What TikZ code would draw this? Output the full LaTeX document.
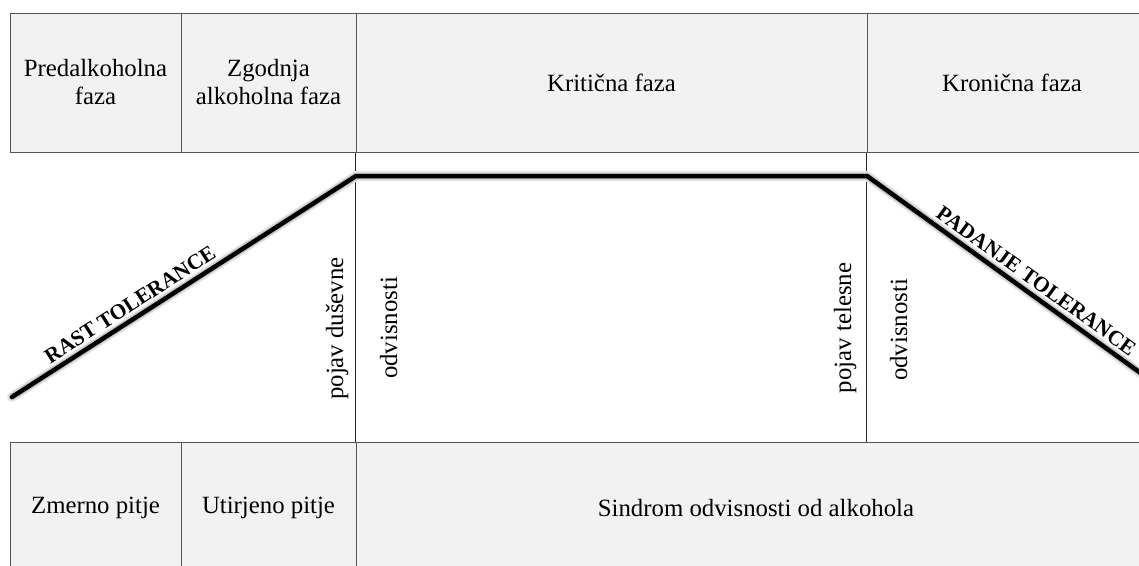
\documentclass[tikz,border=0pt]{standalone}
\usepackage{fontspec}
\setmainfont{Liberation Serif}
\definecolor{boxgray}{HTML}{F2F2F2}
\definecolor{edgegray}{HTML}{555555}
\begin{document}
\begin{tikzpicture}[x=1pt,y=-1pt,
  cell/.style={draw=edgegray, line width=1pt, fill=boxgray, inner sep=0pt,
    align=center, font=\fontsize{24.8}{28}\selectfont},
  topcell/.style={cell, minimum height=139pt},
  botcell/.style={cell, minimum height=132pt},
  vtext/.style={rotate=90, anchor=base, inner sep=0pt, font=\fontsize{24.8}{28}\selectfont},
  tol/.style={font=\bfseries\fontsize{21.5}{24}\selectfont, sloped, above, inner sep=4.5pt},
  divider/.style={draw=black!85, line width=1pt},
  curve/.style={line width=4.5pt, line cap=round, line join=miter},
  shade/.style={line cap=round, line join=miter, xshift=1pt, yshift=-2.5pt}
  ]
\useasboundingbox (0,0) rectangle (1139,565);
\fill[white] (0,0) rectangle (1139,565);

% top band
\node[topcell, minimum width=171pt] (pre) at (95.5,82.5) {Predalkoholna\\faza};
\node[topcell, minimum width=175pt] (zgo) at (268.5,82.5) {Zgodnja\\alkoholna faza};
\node[topcell, minimum width=511pt] (kri) at (611.5,82.5) {Kritična faza};
\node[topcell, minimum width=290pt] (kro) at (1012,82.5) {Kronična faza};

% bottom band
\node[botcell, minimum width=171pt] (zme) at (95.5,508) {Zmerno pitje};
\node[botcell, minimum width=175pt] (uti) at (268.5,508) {Utirjeno pitje};
\node[botcell, minimum width=800pt] (sin) at (756,508) {Sindrom odvisnosti od alkohola};

% dividers through the middle band
\draw[divider] (kri.south west) -- (sin.north west);
\draw[divider] (kro.south west) -- (kro.south west |- sin.north);

% tolerance curve
\coordinate (a) at (12,397);
\coordinate (b) at (356,176);
\coordinate (c) at (867,176);
\coordinate (d) at (1160,387);
\draw[shade, line width=10pt, black!10] (a) -- (b) -- (c) -- (d);
\draw[shade, line width=7pt, black!22] (a) -- (b) -- (c) -- (d);
\draw[curve] (a) -- (b) node[tol, pos=0.365] (rast) {RAST TOLERANCE}
  -- (c) -- (d) node[tol, pos=0.55] (pad) {PADANJE TOLERANCE};

% rotated labels
\node[vtext] (pdu) at (343,328.5) {pojav duševne};
\node[vtext] (od1) at (397,328) {odvisnosti};
\node[vtext] (pte) at (851,328) {pojav telesne};
\node[vtext] (od2) at (907,330) {odvisnosti};
\end{tikzpicture}
\end{document}
